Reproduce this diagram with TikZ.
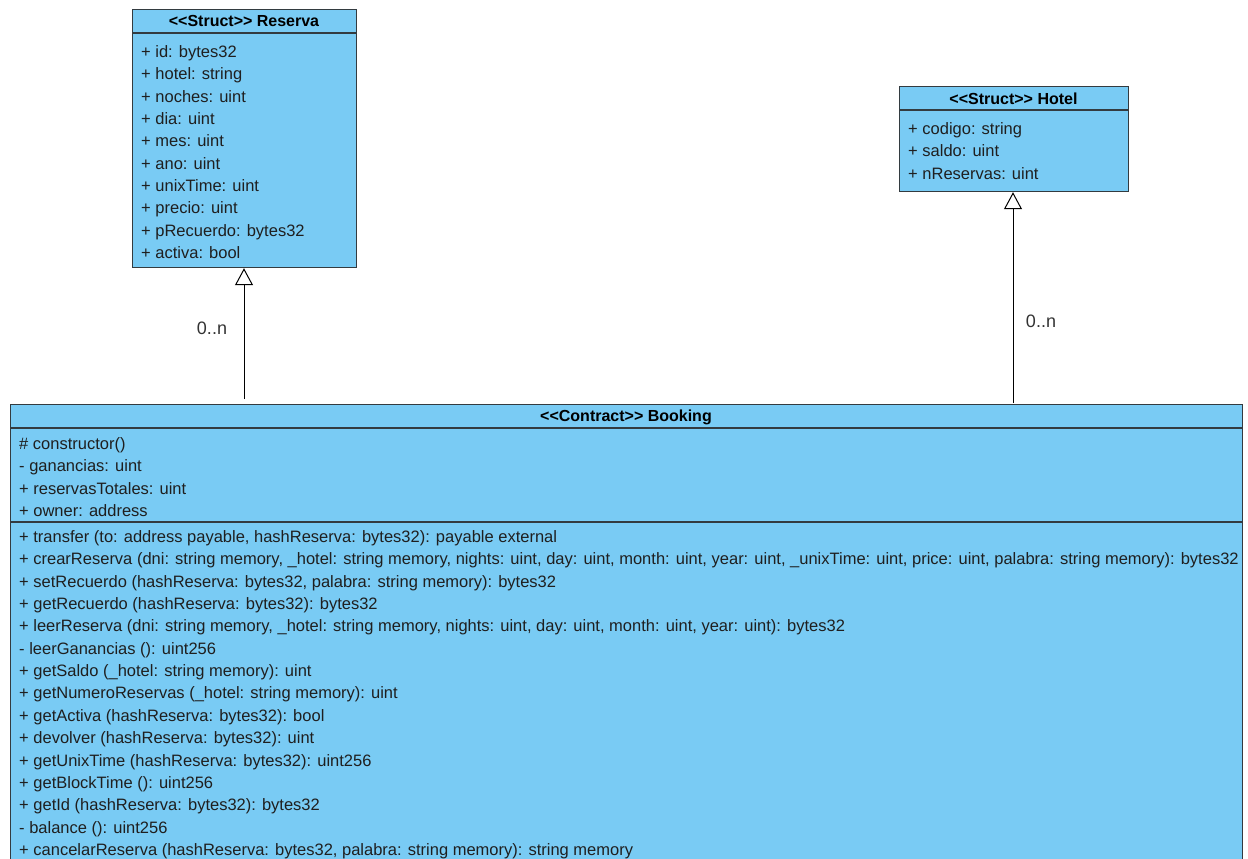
\documentclass[tikz,border=0pt]{standalone}
\usepackage{fontspec}
\setmainfont{Liberation Sans}
\usetikzlibrary{arrows.meta}
\definecolor{umlfill}{HTML}{79CBF4}
\definecolor{umlline}{HTML}{333B40}
\begin{document}
\begin{tikzpicture}[x=1pt,y=-1pt,
  classbox/.style={draw=umlline,line width=1.2pt,fill=umlfill,inner sep=0pt,anchor=north west},
  sepline/.style={draw=umlline,line width=1.1pt},
  title/.style={font=\fontsize{16}{18}\selectfont\bfseries,anchor=base,inner sep=0pt},
  member/.style={font=\fontsize{16.5}{18}\selectfont,anchor=base west,inner sep=0pt,text=black!88},
  mult/.style={font=\fontsize{18}{20}\selectfont,inner sep=0pt,text=black!80},
  inherit/.style={draw=black,line width=1pt,-{Triangle[open,length=17pt,width=18pt]}}]
\useasboundingbox (0,0) rectangle (1248,859);
\clip (0,0) rectangle (1248,859);
% Reserva
\node[classbox,minimum width=224pt,minimum height=258pt] (reserva) at (132,9) {};
\draw[sepline] (132,33) -- (356,33);
\node[title] (reservat) at (244,27) {{<}{<}Struct{>}{>} Reserva};
\foreach \i/\t in {0/{+ id: bytes32},1/{+ hotel: string},2/{+ noches: uint},3/{+ dia: uint},4/{+ mes: uint},5/{+ ano: uint},6/{+ unixTime: uint},7/{+ precio: uint},8/{+ pRecuerdo: bytes32},9/{+ activa: bool}}
  \node[member] (reserva\i) at (141,{57.5+22.35*\i}) {\t};
% Hotel
\node[classbox,minimum width=229pt,minimum height=105pt] (hotel) at (899,86) {};
\draw[sepline] (899,110) -- (1128,110);
\node[title] (hotelt) at (1013.5,104) {{<}{<}Struct{>}{>} Hotel};
\foreach \i/\t in {0/{+ codigo: string},1/{+ saldo: uint},2/{+ nReservas: uint}}
  \node[member] (hotel\i) at (908,{134.5+22.3*\i}) {\t};
% Booking
\node[classbox,minimum width=1232pt,minimum height=480pt] (booking) at (10,404) {};
\draw[sepline] (10,428) -- (1242,428);
\draw[sepline] (10,522) -- (1242,522);
\node[title] (bookingt) at (626,421) {{<}{<}Contract{>}{>} Booking};
\foreach \i/\t in {0/{\# constructor()},1/{- ganancias: uint},2/{+ reservasTotales: uint},3/{+ owner: address}}
  \node[member] (batt\i) at (19,{449.5+22.35*\i}) {\t};
\foreach \i/\t in {
 0/{+ transfer (to: address payable, hashReserva: bytes32): payable external},
 1/{+ crearReserva (dni: string memory, \_hotel: string memory, nights: uint, day: uint, month: uint, year: uint, \_unixTime: uint, price: uint, palabra: string memory): bytes32},
 2/{+ setRecuerdo (hashReserva: bytes32, palabra: string memory): bytes32},
 3/{+ getRecuerdo (hashReserva: bytes32): bytes32},
 4/{+ leerReserva (dni: string memory, \_hotel: string memory, nights: uint, day: uint, month: uint, year: uint): bytes32},
 5/{- leerGanancias (): uint256},
 6/{+ getSaldo (\_hotel: string memory): uint},
 7/{+ getNumeroReservas (\_hotel: string memory): uint},
 8/{+ getActiva (hashReserva: bytes32): bool},
 9/{+ devolver (hashReserva: bytes32): uint},
 10/{+ getUnixTime (hashReserva: bytes32): uint256},
 11/{+ getBlockTime (): uint256},
 12/{+ getId (hashReserva: bytes32): bytes32},
 13/{- balance (): uint256},
 14/{+ cancelarReserva (hashReserva: bytes32, palabra: string memory): string memory}}
  \node[member] (bmet\i) at (19,{542.5+22.35*\i}) {\t};
% connectors
\coordinate (rstart) at (244,399);
\coordinate (hstart) at (1013,403);
\draw[inherit] (rstart) -- (reserva.south -| rstart);
\draw[inherit] (hstart) -- (hotel.south -| hstart);
\node[mult] (m1) at (212,328) {0..n};
\node[mult] (m2) at (1041,321) {0..n};
\end{tikzpicture}
\end{document}
